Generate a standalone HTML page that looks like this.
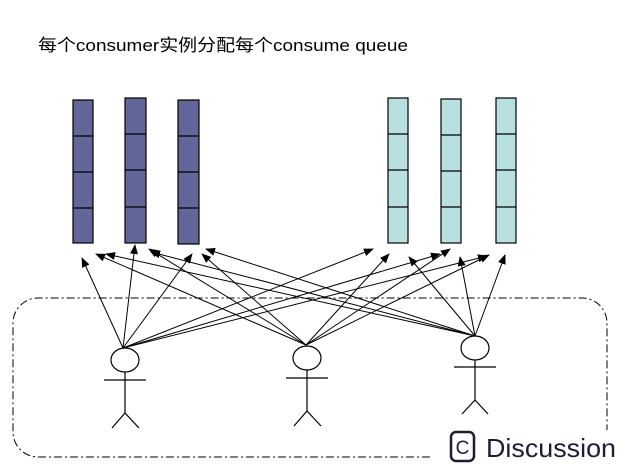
<!DOCTYPE html>
<html><head><meta charset="utf-8"><style>
html,body{margin:0;padding:0;background:#fff;width:638px;height:473px;overflow:hidden}
</style></head><body>
<svg width="638" height="473" viewBox="0 0 638 473" xmlns="http://www.w3.org/2000/svg">
<defs><marker id="a" markerWidth="10" markerHeight="8" refX="9" refY="4" orient="auto" markerUnits="userSpaceOnUse"><path d="M0,0 L10,4 L0,8 z" fill="#000"/></marker></defs>
<text x="38" y="51" font-family="Liberation Sans, Noto Sans CJK SC, sans-serif" font-size="17" textLength="370" lengthAdjust="spacingAndGlyphs">每个consumer实例分配每个consume queue</text>
<g stroke="#000" stroke-width="1.2">
<g fill="#636699">
<rect x="73" y="100" width="20" height="143"/><line x1="73" y1="136" x2="93" y2="136"/><line x1="73" y1="172" x2="93" y2="172"/><line x1="73" y1="208" x2="93" y2="208"/>
<rect x="125" y="98" width="21" height="145"/><line x1="125" y1="134" x2="146" y2="134"/><line x1="125" y1="170" x2="146" y2="170"/><line x1="125" y1="207" x2="146" y2="207"/>
<rect x="178" y="100" width="21" height="144"/><line x1="178" y1="136" x2="199" y2="136"/><line x1="178" y1="172" x2="199" y2="172"/><line x1="178" y1="208" x2="199" y2="208"/>
</g>
<g fill="#b9e0e0">
<rect x="388" y="98" width="20" height="145"/><line x1="388" y1="134" x2="408" y2="134"/><line x1="388" y1="170" x2="408" y2="170"/><line x1="388" y1="207" x2="408" y2="207"/>
<rect x="441" y="99" width="20" height="144"/><line x1="441" y1="135" x2="461" y2="135"/><line x1="441" y1="171" x2="461" y2="171"/><line x1="441" y1="207" x2="461" y2="207"/>
<rect x="496" y="98" width="20" height="145"/><line x1="496" y1="134" x2="516" y2="134"/><line x1="496" y1="170" x2="516" y2="170"/><line x1="496" y1="207" x2="516" y2="207"/>
</g>
</g>
<path d="M430,457 H38 A25,25 0 0 1 13,432 V323 A25,25 0 0 1 38,298 H582 A25,25 0 0 1 607,323 V452" fill="none" stroke="#000" stroke-width="1" stroke-dasharray="8,3,2,3"/>
<g stroke="#000" stroke-width="1" marker-end="url(#a)">
<line x1="123" y1="348" x2="82" y2="258"/><line x1="123" y1="348" x2="135" y2="245"/><line x1="123" y1="348" x2="192" y2="254"/><line x1="123" y1="348" x2="373" y2="249"/><line x1="123" y1="348" x2="440" y2="254"/><line x1="123" y1="348" x2="487" y2="256"/>
<line x1="306" y1="345" x2="96" y2="254"/><line x1="306" y1="345" x2="149" y2="249"/><line x1="306" y1="345" x2="202" y2="254"/><line x1="306" y1="345" x2="389" y2="254"/><line x1="306" y1="345" x2="450" y2="249"/><line x1="306" y1="345" x2="489" y2="255"/>
<line x1="475" y1="336" x2="106" y2="254"/><line x1="475" y1="336" x2="151" y2="252"/><line x1="475" y1="336" x2="206" y2="249"/><line x1="475" y1="336" x2="409" y2="257"/><line x1="475" y1="336" x2="460" y2="257"/><line x1="475" y1="336" x2="505" y2="255"/>
</g>
<g stroke="#000" stroke-width="1.2" fill="#fff">
<ellipse cx="125" cy="360" rx="14" ry="12"/><line x1="125" y1="372" x2="125" y2="413"/><line x1="104" y1="380" x2="146" y2="380"/><line x1="125" y1="413" x2="112" y2="428"/><line x1="125" y1="413" x2="139" y2="428"/>
<ellipse cx="307" cy="358" rx="14" ry="12"/><line x1="307" y1="370" x2="307" y2="411"/><line x1="286" y1="378" x2="328" y2="378"/><line x1="307" y1="411" x2="294" y2="426"/><line x1="307" y1="411" x2="321" y2="426"/>
<ellipse cx="475" cy="348" rx="14" ry="12"/><line x1="475" y1="360" x2="475" y2="400"/><line x1="454" y1="367" x2="496" y2="367"/><line x1="475" y1="400" x2="462" y2="414"/><line x1="475" y1="400" x2="488" y2="414"/>
</g>
<rect x="433" y="430" width="205" height="43" fill="#fff"/>
<rect x="451" y="432" width="23" height="29" rx="5" fill="none" stroke="#1a1f36" stroke-width="2.5"/>
<text x="462.5" y="454" text-anchor="middle" font-family="Liberation Sans, sans-serif" font-size="19" fill="#1a1f36">C</text>
<text x="486" y="457" font-family="Liberation Sans, sans-serif" font-size="26" fill="#1a1f36" textLength="130" lengthAdjust="spacingAndGlyphs">Discussion</text>
</svg>
</body></html>
